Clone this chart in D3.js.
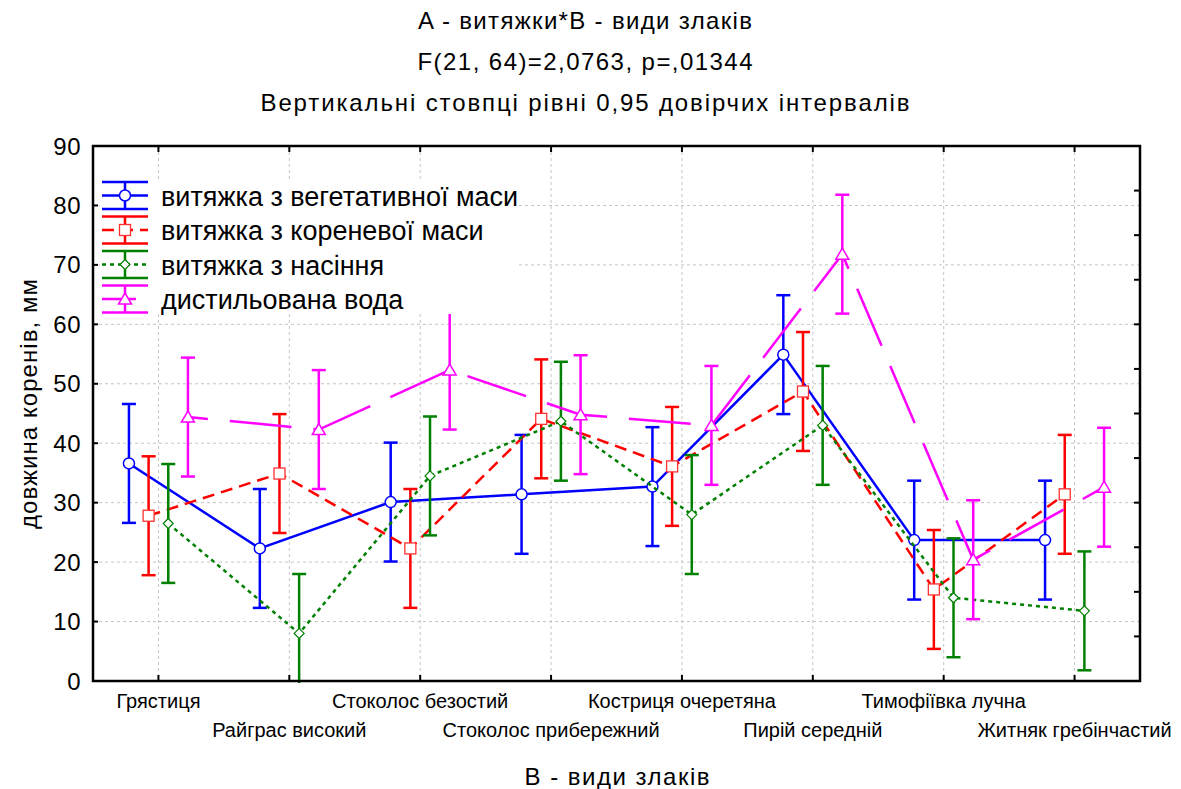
<!DOCTYPE html>
<html>
<head>
<meta charset="utf-8">
<script src="https://cdn.jsdelivr.net/npm/d3@7/dist/d3.min.js"></script>
<style>
  html, body { margin: 0; padding: 0; background: #fff; }
  svg { display: block; }
  text { font-family: "Liberation Sans", Arial, sans-serif; fill: #000; }
</style>
</head>
<body>
<svg id="chart" width="1181" height="789"></svg>
<script>
// ---------- data ----------
const titleLines = [
  "A - витяжки*B - види злаків",
  "F(21, 64)=2,0763, p=,01344",
  "Вертикальні стовпці рівні 0,95 довірчих інтервалів"
];
const xAxisTitle = "B - види злаків";
const yAxisTitle = "довжина коренів, мм";
const categories = [
  "Грястиця", "Райграс високий", "Стоколос безостий", "Стоколос прибережний",
  "Костриця очеретяна", "Пирій середній", "Тимофіївка лучна", "Житняк гребінчастий"
];
const seriesNames = [
  "витяжка з вегетативної маси",
  "витяжка з кореневої маси",
  "витяжка з насіння",
  "дистильована вода"
];
const vegetativeMeans = [36.6, 22.3, 30.1, 31.4, 32.7, 54.9, 23.7, 23.7];
const rootMeans       = [27.8, 34.9, 22.3, 44.1, 36.1, 48.7, 15.4, 31.4];
const seedMeans       = [26.5, 8.0, 34.5, 43.7, 28.0, 43.0, 14.0, 11.8];
const waterMeans      = [44.4, 42.3, 52.3, 44.8, 43.0, 71.8, 20.4, 32.6];
const ciHalfWidth = 10.0;
const yTicks = [0, 10, 20, 30, 40, 50, 60, 70, 80, 90];
const rightTicks = [0, 7.5, 15, 22.5, 30, 37.5, 45, 52.5, 60, 67.5, 75, 82.5, 90];

// ---------- styles ----------
const seriesStyle = [
  { color: "#0000ff", dash: null,    marker: "circle"   },
  { color: "#ff0000", dash: "12,7",  marker: "square"   },
  { color: "#008000", dash: "4,4",   marker: "diamond"  },
  { color: "#ff00ff", dash: "62,22", marker: "triangle", offset: 42 }
];
const allMeans = [vegetativeMeans, rootMeans, seedMeans, waterMeans];

const svg = d3.select("#chart");
const X0 = 93, X1 = 1140, Y0 = 146, Y1 = 681;

const x = d3.scaleBand().domain(categories).range([X0, X1]);
const cx = c => x(c) + x.bandwidth() / 2;
const off = d3.scalePoint().domain(seriesNames).range([-29.5, 29.5]);
const y = d3.scaleLinear().domain([0, 90]).range([Y1, Y0]);

// clip
svg.append("defs").append("clipPath").attr("id", "plotclip")
  .append("rect").attr("x", X0).attr("y", Y0).attr("width", X1 - X0).attr("height", Y1 - Y0 + 2);

// ---------- titles ----------
const titleW = [334, 335, 649];
titleLines.forEach((t, i) => {
  svg.append("text").attr("x", 585).attr("y", 29 + i * 41)
    .attr("text-anchor", "middle").style("font-size", "24px")
    .attr("textLength", titleW[i]).attr("lengthAdjust", "spacing")
    .text(t);
});

// ---------- grid ----------
const grid = svg.append("g").attr("stroke", "#c4c4c4").attr("stroke-width", 1).attr("stroke-dasharray", "3,3");
categories.forEach(c => {
  grid.append("line").attr("x1", cx(c)).attr("x2", cx(c)).attr("y1", Y0).attr("y2", Y1);
});
yTicks.filter(v => v > 0 && v < 90).forEach(v => {
  grid.append("line").attr("x1", X0).attr("x2", X1).attr("y1", y(v)).attr("y2", y(v));
});

// ---------- series ----------
function drawMarker(g, type, px, py, color) {
  if (type === "circle") {
    g.append("circle").attr("cx", px).attr("cy", py).attr("r", 5.5)
      .attr("fill", "#fff").attr("stroke", color).attr("stroke-width", 1.5);
  } else if (type === "square") {
    g.append("rect").attr("x", px - 5.5).attr("y", py - 5.5).attr("width", 11).attr("height", 11)
      .attr("fill", "#fff").attr("stroke", "#ff3030").attr("stroke-width", 1.3);
  } else if (type === "diamond") {
    g.append("path").attr("d", `M${px},${py - 5}L${px + 5},${py}L${px},${py + 5}L${px - 5},${py}Z`)
      .attr("fill", "#fff").attr("stroke", color).attr("stroke-width", 1.2);
  } else {
    g.append("path").attr("d", `M${px},${py - 6}L${px + 6.5},${py + 5}L${px - 6.5},${py + 5}Z`)
      .attr("fill", "#fff").attr("stroke", color).attr("stroke-width", 1.5);
  }
}

const plot = svg.append("g").attr("clip-path", "url(#plotclip)");
seriesNames.forEach((s, si) => {
  const st = seriesStyle[si];
  const means = allMeans[si];
  const pts = categories.map((c, i) => [cx(c) + off(s), means[i]]);
  const line = d3.line().x(d => d[0]).y(d => y(d[1]));
  const g = plot.append("g");
  const p = g.append("path").attr("d", line(pts)).attr("fill", "none")
    .attr("stroke", st.color).attr("stroke-width", 2.5);
  if (st.dash) p.attr("stroke-dasharray", st.dash);
  if (st.offset) p.attr("stroke-dashoffset", st.offset);
  pts.forEach(([px, v]) => {
    const lo = v - ciHalfWidth, hi = v + ciHalfWidth;
    g.append("line").attr("x1", px).attr("x2", px).attr("y1", y(hi)).attr("y2", y(lo))
      .attr("stroke", st.color).attr("stroke-width", 2.5);
    [hi, lo].forEach(b => g.append("line").attr("x1", px - 7).attr("x2", px + 7)
      .attr("y1", y(b)).attr("y2", y(b)).attr("stroke", st.color).attr("stroke-width", 2.5));
  });
  pts.forEach(([px, v]) => drawMarker(g, st.marker, px, y(v), st.color));
});

// ---------- frame and ticks ----------
svg.append("rect").attr("x", X0).attr("y", Y0).attr("width", X1 - X0).attr("height", Y1 - Y0)
  .attr("fill", "none").attr("stroke", "#000").attr("stroke-width", 2.5);
const tk = svg.append("g").attr("stroke", "#000").attr("stroke-width", 2);
yTicks.forEach(v => tk.append("line").attr("x1", X0).attr("x2", X0 + 5).attr("y1", y(v)).attr("y2", y(v)));
rightTicks.forEach(v => tk.append("line").attr("x1", X1 - 6).attr("x2", X1).attr("y1", y(v)).attr("y2", y(v)));
categories.forEach(c => {
  tk.append("line").attr("x1", cx(c)).attr("x2", cx(c)).attr("y1", Y1).attr("y2", Y1 - 6);
  tk.append("line").attr("x1", cx(c)).attr("x2", cx(c)).attr("y1", Y0).attr("y2", Y0 + 6);
});

// y tick labels
yTicks.forEach(v => {
  svg.append("text").attr("x", 81).attr("y", y(v) + 8.5).attr("text-anchor", "end")
    .style("font-size", "24px").style("letter-spacing", "0.5px").text(v);
});
// x tick labels
categories.forEach((c, i) => {
  svg.append("text").attr("x", cx(c)).attr("y", i % 2 === 0 ? 708 : 737)
    .attr("text-anchor", "middle").style("font-size", "20px").text(c);
});
// axis titles
svg.append("text").attr("x", 617).attr("y", 785).attr("text-anchor", "middle")
  .style("font-size", "24px").attr("textLength", 185).attr("lengthAdjust", "spacing").text(xAxisTitle);
svg.append("text").attr("transform", "translate(37,404) rotate(-90)").attr("text-anchor", "middle")
  .style("font-size", "24px").attr("textLength", 250).attr("lengthAdjust", "spacing").text(yAxisTitle);

// ---------- legend ----------
const lg = svg.append("g");
lg.append("rect").attr("x", 100).attr("y", 179).attr("width", 419).attr("height", 135).attr("fill", "#fff");
seriesNames.forEach((s, i) => {
  const st = seriesStyle[i];
  const cy = 195.5 + i * 34.5;
  const sx0 = 102, sx1 = 148, sm = 125;
  [cy - 13.5, cy + 13.5].forEach(yy => lg.append("line").attr("x1", sx0).attr("x2", sx1)
    .attr("y1", yy).attr("y2", yy).attr("stroke", st.color).attr("stroke-width", 2.5));
  lg.append("line").attr("x1", sm).attr("x2", sm).attr("y1", cy - 13.5).attr("y2", cy + 13.5)
    .attr("stroke", st.color).attr("stroke-width", 2.5);
  const ml = lg.append("line").attr("x1", sx0).attr("x2", sx1).attr("y1", cy).attr("y2", cy)
    .attr("stroke", st.color).attr("stroke-width", 2.5);
  if (st.dash) ml.attr("stroke-dasharray", i === 3 ? "34,12" : st.dash);
  drawMarker(lg, st.marker, sm, cy, st.color);
  lg.append("text").attr("x", 161).attr("y", cy + 10).style("font-size", "27px").text(s);
});
</script>
</body>
</html>
